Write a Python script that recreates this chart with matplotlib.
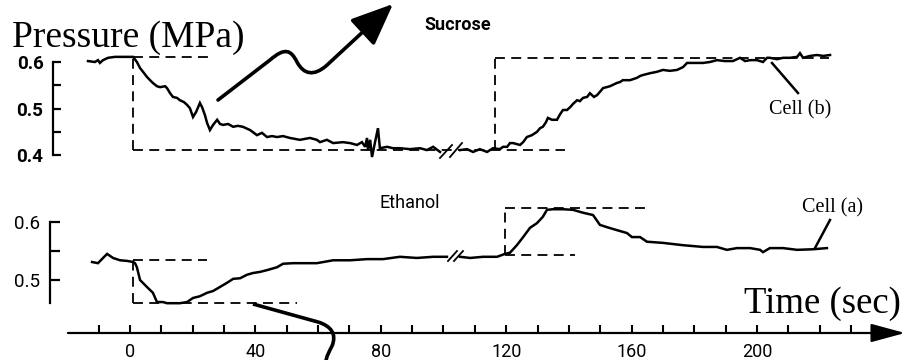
import matplotlib
matplotlib.use("Agg")
import matplotlib.pyplot as plt
from matplotlib.path import Path
from matplotlib.patches import FancyArrowPatch, PathPatch
from matplotlib.transforms import Affine2D
from matplotlib.lines import Line2D

# ---------------- data (time in s, pressure in MPa) ----------------
# Sucrose, cell (b) - before the time break
suc_t1 = [-13.4, -11.2, -10.2, -9.6, -8.6, -7.0, -4.8, -1.6, 1.0, 2.2, 3.2, 4.5, 5.4, 6.4, 7.3, 8.6,
          9.6, 11.2, 11.8, 12.8, 13.7, 15.0, 15.9, 17.2, 18.2, 19.1, 20.1, 21.1, 22.3, 23.0, 23.9, 24.6,
          25.5, 26.5, 27.8, 28.7, 29.7, 31.3, 32.9, 34.4, 36.0, 38.3, 40.5, 42.1, 43.7, 45.3, 46.9, 48.8,
          51.0, 52.6, 54.2, 57.4, 59.6, 60.6, 62.8, 64.8, 67.9, 70.2, 72.4, 74.0, 75.0, 75.6, 75.9, 76.6,
          77.2, 78.1, 79.1, 79.7, 82.0, 83.9, 86.1, 89.3, 92.5, 94.7, 96.7, 98.9]
suc_p1 = [0.602, 0.600, 0.604, 0.598, 0.604, 0.609, 0.611, 0.611, 0.611, 0.600, 0.587, 0.576, 0.568, 0.561,
          0.555, 0.548, 0.546, 0.548, 0.544, 0.533, 0.525, 0.523, 0.518, 0.514, 0.508, 0.501, 0.482, 0.493,
          0.512, 0.503, 0.486, 0.469, 0.454, 0.465, 0.476, 0.467, 0.465, 0.467, 0.461, 0.463, 0.461, 0.454,
          0.443, 0.448, 0.439, 0.441, 0.439, 0.441, 0.437, 0.435, 0.433, 0.437, 0.433, 0.428, 0.433, 0.426,
          0.428, 0.426, 0.422, 0.428, 0.418, 0.437, 0.411, 0.433, 0.396, 0.426, 0.458, 0.415, 0.418, 0.415,
          0.415, 0.413, 0.415, 0.411, 0.418, 0.407]
# Sucrose, cell (b) - after the time break
suc_t2 = [105.3, 107.5, 109.4, 111.6, 113.9, 115.8, 118.0, 119.0, 120.3, 121.2, 122.2, 124.4, 125.4, 126.6,
          128.2, 129.8, 130.8, 131.7, 132.7, 133.3, 134.6, 136.2, 137.2, 138.1, 139.4, 140.4, 141.3, 142.6,
          143.5, 144.5, 145.8, 146.7, 148.0, 149.0, 149.9, 150.9, 153.1, 155.3, 156.3, 157.2, 159.5, 161.7,
          162.7, 163.6, 165.9, 168.1, 170.0, 172.2, 174.5, 176.4, 177.7, 180.2, 182.8, 185.0, 187.2, 189.8,
          192.3, 194.6, 196.2, 197.8, 200.0, 201.9, 203.2, 204.1, 206.4, 208.3, 210.5, 212.8, 213.7, 214.7,
          216.9, 219.1, 221.1, 223.3]
suc_p2 = [0.411, 0.413, 0.407, 0.413, 0.407, 0.415, 0.413, 0.418, 0.418, 0.426, 0.426, 0.422, 0.428, 0.439,
          0.443, 0.450, 0.458, 0.461, 0.471, 0.480, 0.476, 0.476, 0.488, 0.497, 0.497, 0.503, 0.510, 0.518,
          0.516, 0.523, 0.525, 0.533, 0.525, 0.529, 0.536, 0.544, 0.548, 0.555, 0.557, 0.561, 0.561, 0.566,
          0.570, 0.572, 0.576, 0.579, 0.583, 0.581, 0.583, 0.589, 0.598, 0.598, 0.598, 0.600, 0.604, 0.602,
          0.602, 0.609, 0.602, 0.604, 0.604, 0.600, 0.609, 0.609, 0.606, 0.609, 0.609, 0.611, 0.619, 0.609,
          0.613, 0.615, 0.613, 0.615]

# Ethanol, cell (a)
eth_t1 = [-12.1, -10.2, -8.6, -7.3, -5.4, -3.2, -1.0, 1.0, 1.6, 2.2, 3.2, 5.4, 7.3, 8.6, 10.5, 11.8, 13.7,
          15.9, 18.2, 20.1, 22.3, 24.6, 26.5, 28.7, 30.9, 32.9, 35.1, 37.3, 39.2, 41.5, 43.7, 46.9, 48.8,
          52.0, 54.2, 59.6, 64.8, 70.2, 75.6, 80.7, 86.1, 91.5, 96.7, 101.1]
eth_p1 = [0.531, 0.529, 0.538, 0.545, 0.538, 0.534, 0.533, 0.531, 0.529, 0.522, 0.500, 0.488, 0.478, 0.462,
          0.462, 0.460, 0.460, 0.460, 0.462, 0.469, 0.472, 0.478, 0.481, 0.488, 0.495, 0.502, 0.503, 0.509,
          0.512, 0.514, 0.517, 0.522, 0.528, 0.529, 0.529, 0.529, 0.534, 0.534, 0.536, 0.536, 0.540, 0.538,
          0.540, 0.540]
eth_t2 = [105.3, 108.5, 112.6, 117.1, 119.6, 121.2, 123.4, 125.4, 127.6, 129.8, 131.7, 133.0, 134.9, 138.1,
          141.3, 144.5, 147.7, 149.9, 152.2, 155.3, 158.5, 160.1, 162.7, 164.9, 170.0, 176.4, 182.8, 187.2,
          190.4, 193.6, 197.8, 201.0, 201.9, 204.1, 208.3, 212.8, 217.9, 222.3]
eth_p2 = [0.540, 0.538, 0.540, 0.540, 0.545, 0.547, 0.560, 0.574, 0.590, 0.598, 0.609, 0.621, 0.622, 0.622,
          0.621, 0.616, 0.612, 0.595, 0.591, 0.586, 0.581, 0.574, 0.574, 0.566, 0.564, 0.560, 0.557, 0.557,
          0.552, 0.555, 0.555, 0.552, 0.548, 0.555, 0.555, 0.552, 0.553, 0.555]

# ideal step (dashed) outlines: (t_start, t_end, level)
suc_steps_h = [(1.0, 26.2, 0.611), (1.0, 138.8, 0.411), (116.4, 223.0, 0.609)]
suc_steps_v = [(1.0, 0.411, 0.611), (116.4, 0.411, 0.609)]
eth_steps_h = [(1.0, 24.6, 0.534), (1.0, 53.3, 0.460), (119.6, 164.9, 0.624), (119.6, 141.9, 0.543)]
eth_steps_v = [(1.0, 0.460, 0.534), (119.6, 0.543, 0.624)]

time_major = [0, 40, 80, 120, 160, 200]
time_minor = [-10, 10, 20, 30, 50, 60, 70, 90, 100, 110, 130, 140, 150, 170, 180, 190, 210, 220, 230]
top_major = [0.4, 0.5, 0.6]
top_minor = [0.45, 0.55]
bot_major = [0.5, 0.6]
bot_minor = [0.55]

# ---------------- figure ----------------
plt.rcParams['font.family'] = ['Roboto', 'DejaVu Sans']
W, H = 906, 360
fig = plt.figure(figsize=(W / 100, H / 100), dpi=100)
pix = Affine2D().scale(1 / W, -1 / H).translate(0, 1) + fig.transFigure

XLIM = (-130 / 3.135, 776 / 3.135)
ax_top = fig.add_axes([0, 1 - 175 / H, 1, 175 / H])
ax_bot = fig.add_axes([0, (H - 333) / H, 1, 153 / H])
ax_top.set_xlim(*XLIM)
ax_bot.set_xlim(*XLIM)
ax_top.set_ylim(0.6 - 113 / 466, 0.6 + 62 / 466)
ax_bot.set_ylim(0.6 - 111 / 580, 0.6 + 42 / 580)

for ax in (ax_top, ax_bot):
    ax.patch.set_alpha(0)
    for s in ('top', 'right', 'bottom'):
        ax.spines[s].set_visible(False)
    ax.spines['left'].set_linewidth(1.6)

dash = dict(color='black', lw=1.3, ls=(0, (5.5, 3.5)))
tr = dict(color='black', lw=1.8, solid_joinstyle='miter')

# top panel
ax_top.plot(suc_t1, suc_p1, **tr)
ax_top.plot(suc_t2, suc_p2, **tr)
for a, b, y in suc_steps_h:
    ax_top.plot([a, b], [y, y], **dash)
for x, a, b in suc_steps_v:
    ax_top.plot([x, x], [a, b], **dash)
ax_top.spines['left'].set_position(('data', -24.5))
ax_top.spines['left'].set_bounds(0.4, 0.6)
ax_top.set_yticks(top_major)
ax_top.set_yticks(top_minor, minor=True)
ax_top.set_yticklabels(['0.4', '0.5', '0.6'], fontsize=13.5, fontweight='bold')
ax_top.tick_params(axis='y', which='both', direction='in', length=6, width=1.6, pad=7)
ax_top.tick_params(axis='x', which='both', bottom=False, labelbottom=False)

# bottom panel
ax_bot.plot(eth_t1, eth_p1, **tr)
ax_bot.plot(eth_t2, eth_p2, **tr)
for a, b, y in eth_steps_h:
    ax_bot.plot([a, b], [y, y], **dash)
for x, a, b in eth_steps_v:
    ax_bot.plot([x, x], [a, b], **dash)
ax_bot.spines['left'].set_position(('data', -25.5))
ax_bot.spines['left'].set_bounds(0.46, 0.6)
ax_bot.set_yticks(bot_major)
ax_bot.set_yticks(bot_minor, minor=True)
ax_bot.set_yticklabels(['0.5', '0.6'], fontsize=13.5)
ax_bot.tick_params(axis='y', which='both', direction='in', length=7, width=1.6, pad=7)

# time axis
ax_bot.set_xticks(time_major)
ax_bot.set_xticks(time_minor, minor=True)
ax_bot.set_xticklabels([str(v) for v in time_major], fontsize=13)
ax_bot.tick_params(axis='x', which='both', direction='in', length=5.5, width=1.5, pad=7)
y0 = ax_bot.get_ylim()[0]
ax_bot.annotate('', xy=(247.2, y0), xytext=(-19.8, y0), xycoords='data',
                arrowprops=dict(arrowstyle='-|>,head_length=1.4,head_width=0.38', mutation_scale=15,
                                lw=1.6, color='black', shrinkA=0, shrinkB=0),
                annotation_clip=False)

# texts
fig.text(12 / W, 1 - 47 / H, 'Pressure (MPa)', family='Liberation Serif', fontsize=27, va='baseline')
fig.text(901 / W, 1 - 313 / H, 'Time (sec)', family='Liberation Serif', fontsize=26.5, va='baseline', ha='right')
fig.text(458 / W, 1 - 25 / H, 'Sucrose', fontsize=13, fontweight='bold', ha='center', va='center')
fig.text(410 / W, 1 - 203 / H, 'Ethanol', fontsize=13, ha='center', va='center')
fig.text(800 / W, 1 - 110 / H, 'Cell (b)', family='Liberation Serif', fontsize=14.5, ha='center', va='center')
fig.text(833 / W, 1 - 208 / H, 'Cell (a)', family='Liberation Serif', fontsize=14.5, ha='center', va='center')

# leader lines and break marks
for (xa, ya), (xb, yb), lw in [((772, 63), (798, 93), 1.8), ((815, 248), (830, 220), 1.8),
                               ((440, 158), (452, 145), 1.3), ((450, 157), (462, 143), 1.3),
                               ((448, 261), (457, 251), 1.3), ((454, 261), (463, 251), 1.3)]:
    fig.add_artist(Line2D([xa, xb], [ya, yb], transform=pix, color='black', lw=lw))

# decorative squiggly arrow (top) and squiggle (bottom)
verts = [(218, 100), (270, 60), (285, 47), (291, 50), (297, 62), (304, 75), (314, 76), (326, 66), (393, 4)]
codes = [Path.MOVETO, Path.LINETO, Path.CURVE4, Path.CURVE4, Path.CURVE4,
         Path.CURVE4, Path.CURVE4, Path.CURVE4, Path.LINETO]
fig.add_artist(FancyArrowPatch(path=Path(verts, codes), transform=pix,
                               arrowstyle='-|>,head_length=1.3,head_width=0.55', mutation_scale=20,
                               lw=2.6, color='black'))
verts2 = [(253, 304), (318, 322), (331, 326), (337, 334), (332, 346), (329, 352), (326, 357), (326, 362)]
codes2 = [Path.MOVETO, Path.LINETO, Path.CURVE4, Path.CURVE4, Path.CURVE4,
          Path.CURVE4, Path.CURVE4, Path.CURVE4]
fig.add_artist(PathPatch(Path(verts2, codes2), transform=pix, fill=False, lw=2.6, color='black'))

fig.savefig('out.png', dpi=100, facecolor='white')
